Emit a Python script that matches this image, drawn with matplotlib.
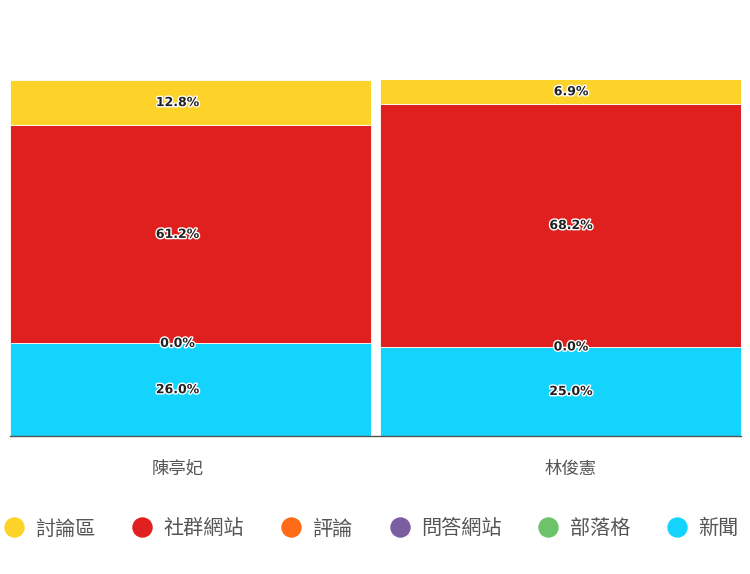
import numpy as np
import matplotlib.pyplot as plt
import matplotlib.patheffects as pe
from matplotlib.lines import Line2D

plt.rcParams['font.family'] = ['Noto Sans CJK TC', 'DejaVu Sans']

candidates = ['陳亭妃', '林俊憲']
series = ['新聞', '部落格', '問答網站', '評論', '社群網站', '討論區']
colors = ['#14d4fe', '#6cc36a', '#7b5ea0', '#ff6b17', '#e0201e', '#fdd329']
news = [26.0, 25.0]
blog = [np.nan, np.nan]
qa = [np.nan, np.nan]
review = [0.0, 0.0]
social = [61.2, 68.2]
forum = [12.8, 6.9]
values = [news, blog, qa, review, social, forum]
legend_order = ['討論區', '社群網站', '評論', '問答網站', '部落格', '新聞']

fig = plt.figure(figsize=(7.5, 5.74), dpi=100)
ax = fig.add_axes([0.0133, 0.2404, 0.975, 0.6206])

x = np.arange(len(candidates))
w = 40 / 41
bottom = np.zeros(len(candidates))
label_dx = [-0.035, 0.028]
for name, vals, c in zip(series, values, colors):
    v = np.nan_to_num(np.array(vals, dtype=float))
    ax.bar(x, v, w, bottom=bottom, color=c, edgecolor='white', linewidth=0.6)
    for i, val in enumerate(vals):
        if np.isnan(val):
            continue
        t = ax.text(x[i] + label_dx[i], bottom[i] + v[i] / 2, f'{val:.1f}%',
                    ha='center', va='center', fontsize=9, fontweight='bold',
                    color='#222222', family='DejaVu Sans')
        t.set_path_effects([pe.withStroke(linewidth=2, foreground='white')])
    bottom += v

ax.set_xlim(-w / 2, 1 + w / 2)
ax.set_ylim(0, 100)
ax.set_yticks([])
ax.set_xticks(x + np.array(label_dx))
ax.set_xticklabels(candidates, fontsize=12.5, color='#555555')
ax.tick_params(axis='x', length=0, pad=17)
for s in ['top', 'left', 'right']:
    ax.spines[s].set_visible(False)
ax.spines['bottom'].set_color('#555555')
ax.spines['bottom'].set_linewidth(1)

# legend
leg_handles = [Line2D([], [], marker='o', linestyle='', markersize=13.7,
                      color=colors[series.index(n)]) for n in legend_order]
fig.legend(leg_handles, legend_order, loc='center', ncol=6,
           bbox_to_anchor=(0.4947, 0.0786), frameon=False, fontsize=14.5,
           handlelength=1.0, handletextpad=0.55, columnspacing=1.84,
           labelcolor='#555555', borderpad=0, borderaxespad=0)

plt.savefig('out.png', dpi=100)
